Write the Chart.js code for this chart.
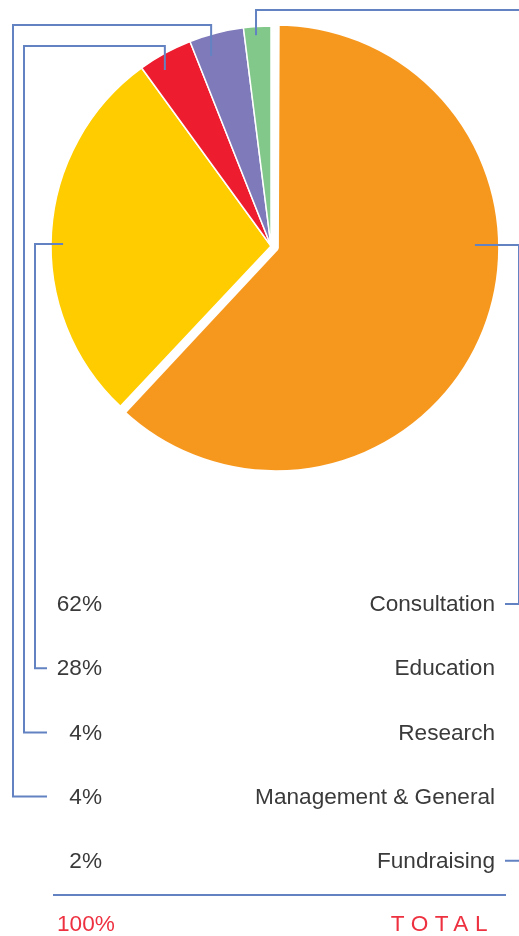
<!DOCTYPE html>
<html><head><meta charset="utf-8">
<script src="https://cdn.jsdelivr.net/npm/chart.js@4.4.1/dist/chart.umd.min.js"></script>
<style>html,body{margin:0;padding:0;background:#fff;overflow:hidden}canvas{display:block}</style>
</head><body>
<canvas id="c" width="519" height="936"></canvas>
<script>
// ---- data ----
const categories = ['Consultation', 'Education', 'Research', 'Management & General', 'Fundraising'];
const shares = [62, 28, 4, 4, 2];
const percentLabels = ['62%', '28%', '4%', '4%', '2%'];
const totalPercent = '100%';
const totalLabel = 'TOTAL';
// ---- styles ----
const sliceColors = ['#f7981e', '#ffcc00', '#ed1c2e', '#7f7bba', '#83c88b'];
const LEADER = '#6282c2';
const TEXT = '#3a3a3a';
const RED = '#ee3140';

const ROW_TOP = 604, ROW_GAP = 64.2;
const rowY = i => ROW_TOP + i * ROW_GAP;

const leaderPlugin = {
  id: 'leaders',
  afterDraw(chart) {
    const ctx = chart.ctx;
    const arcs = chart.getDatasetMeta(0).data;
    const anchor = (i, t, f) => {
      const a = arcs[i];
      const ang = a.startAngle + t * (a.endAngle - a.startAngle);
      const r = a.outerRadius * f;
      return [a.x + r * Math.cos(ang), a.y + r * Math.sin(ang)];
    };
    const routes = [];
    // Consultation (horizontal first, right side)
    let p = anchor(0, 0.402, 0.927);
    routes.push([[p[0], p[1]], [519, p[1]], [519, rowY(0)], [505, rowY(0)]]);
    // Education
    p = anchor(1, 0.47, 0.945);
    routes.push([[p[0], p[1]], [35, p[1]], [35, rowY(1)], [47, rowY(1)]]);
    // Research
    p = anchor(2, 0.34, 0.934);
    routes.push([[p[0], p[1]], [p[0], 46], [24, 46], [24, rowY(2)], [47, rowY(2)]]);
    // Management & General
    p = anchor(3, 0.285, 0.905);
    routes.push([[p[0], p[1]], [p[0], 25], [13, 25], [13, rowY(3)], [47, rowY(3)]]);
    // Fundraising
    p = anchor(4, 0.435, 0.96);
    routes.push([[p[0], p[1]], [p[0], 10], [535, 10], [535, rowY(4)], [505, rowY(4)]]);

    ctx.save();
    ctx.strokeStyle = LEADER;
    ctx.lineWidth = 2;
    ctx.lineJoin = 'miter';
    ctx.lineCap = 'butt';
    routes.forEach(r => {
      ctx.beginPath();
      r.forEach((pt, k) => k ? ctx.lineTo(pt[0], pt[1]) : ctx.moveTo(pt[0], pt[1]));
      ctx.stroke();
    });
    // separator
    ctx.beginPath();
    ctx.moveTo(53, 895); ctx.lineTo(506, 895);
    ctx.stroke();

    // labels
    ctx.font = '22.6px "Liberation Sans", Arial, sans-serif';
    ctx.textBaseline = 'middle';
    ctx.fillStyle = TEXT;
    categories.forEach((c, i) => {
      ctx.textAlign = 'right';
      ctx.fillText(percentLabels[i], 102, rowY(i) + 1);
      ctx.fillText(c, 495, rowY(i) + 1);
    });
    ctx.fillStyle = RED;
    ctx.textAlign = 'left';
    ctx.fillText(totalPercent, 57, 925);
    ctx.textAlign = 'right';
    ctx.letterSpacing = '6.5px';
    ctx.fillText(totalLabel, 494, 925);
    ctx.letterSpacing = '0px';
    ctx.restore();
  }
};

new Chart(document.getElementById('c'), {
  type: 'pie',
  data: {
    labels: categories,
    datasets: [{
      data: shares,
      backgroundColor: sliceColors,
      borderColor: '#ffffff',
      borderWidth: [6, 1.5, 1.5, 1.5, 1.5],
      offset: [21, 0, 0, 0, 0],
      hoverOffset: 0,
      hoverBorderWidth: 0
    }]
  },
  options: {
    responsive: false,
    devicePixelRatio: 1,
    animation: false,
    events: [],
    layout: { padding: { left: 37.5, right: 14.5, top: 12.5, bottom: 456.5 } },
    plugins: { legend: { display: false }, tooltip: { enabled: false } }
  },
  plugins: [leaderPlugin]
});
</script>
</body></html>
